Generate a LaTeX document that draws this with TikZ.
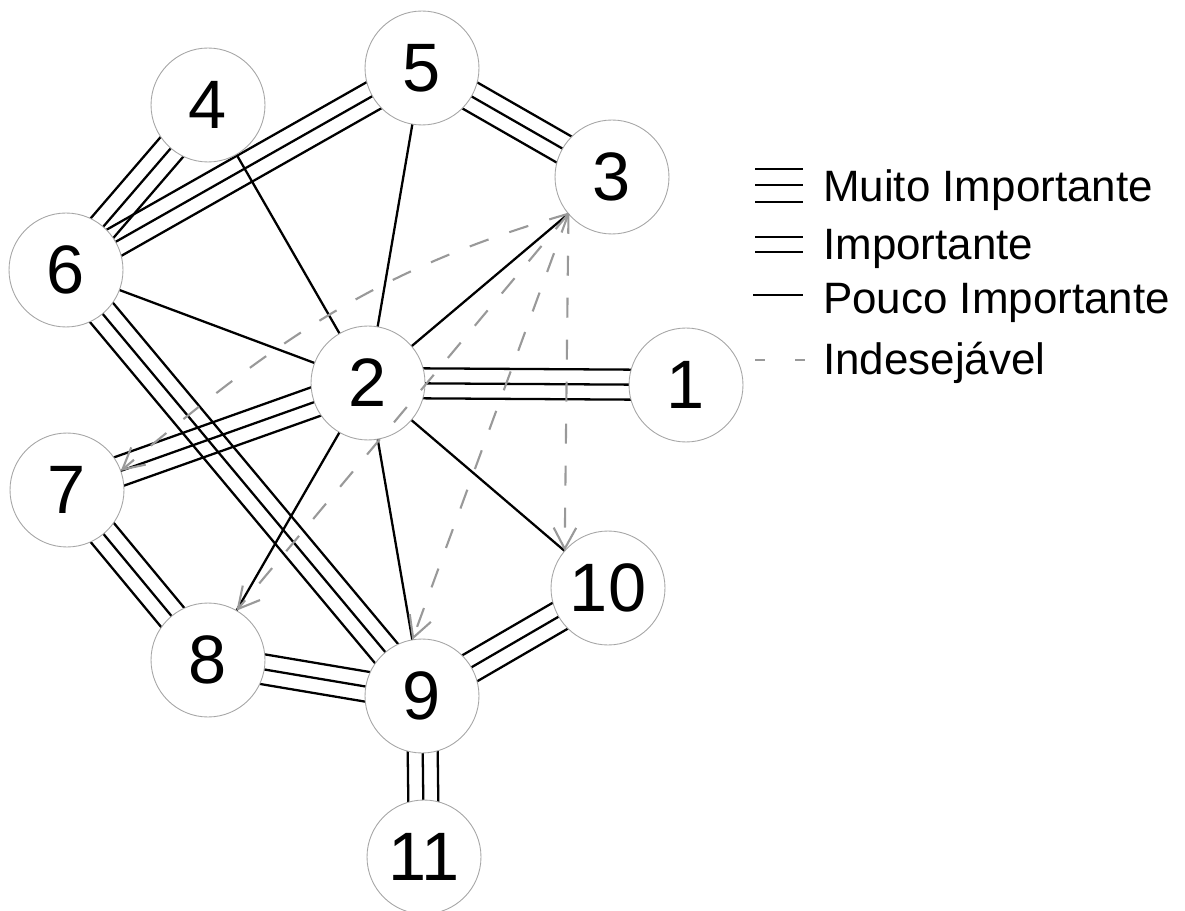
\documentclass[tikz,border=0pt]{standalone}
\usepackage{fontspec}
\setmainfont{Liberation Sans}
\usetikzlibrary{calc, arrows.meta, backgrounds}

\begin{document}
\begin{tikzpicture}[x=0.02cm, y=-0.02cm,
    setor/.style={circle, draw=gray!70, line width=0.5pt, fill=white, minimum size=2.28cm, inner sep=0pt, font=\fontsize{39}{39}\selectfont},
    rel/.style={line width=1.3pt},
    indes/.style={draw=gray!80, line width=1.2pt, dash pattern=on 0.4cm off 0.44cm},
    seta/.style={-{Straight Barb[length=0.42cm, width=0.45cm]}},
    legenda/.style={anchor=base west, font=\fontsize{25}{25}\selectfont}]
    \useasboundingbox (0,0) rectangle (1185,911);

    \node[setor] (1) at (686,385) {1};
    \node[setor] (2) at (368,383) {2};
    \node[setor] (3) at (612,177) {3};
    \node[setor] (4) at (208,105) {4};
    \node[setor] (5) at (422,68) {5};
    \node[setor] (6) at (66,270) {6};
    \node[setor] (7) at (67,490) {7};
    \node[setor] (8) at (208,660) {8};
    \node[setor] (9) at (422,696) {9};
    \node[setor] (10) at (608,588) {10};
    \node[setor] (11) at (424,857) {11};

    \begin{scope}[on background layer]
        \foreach \a/\b in {4/6,5/6,5/3,2/1,2/7,6/9,7/8,8/9,9/10,9/11}{
            \draw[rel] (\a.center) -- (\b.center);
            \draw[rel] ($(\a.center)!0.3cm!90:(\b.center)$) -- ($(\b.center)!0.3cm!-90:(\a.center)$);
            \draw[rel] ($(\a.center)!0.3cm!-90:(\b.center)$) -- ($(\b.center)!0.3cm!90:(\a.center)$);
        }
        \foreach \a in {3,4,5,6,8,9,10}
            \draw[rel] (\a.center) -- (2.center);
    \end{scope}

    \coordinate (p3) at ($(3.center)!1.14cm!(2.center)$);
    \draw[indes, seta] (p3) to[out=196, in=40] ($(7.center)!1.14cm!(2.center)$);
    \foreach \a in {8,9,10}
        \draw[indes, seta] (p3) -- ($(\a.center)!1.14cm!(2.center)$);

    \node[legenda] (l1) at (817,202) {Muito Importante};
    \node[legenda] (l2) at (817,260) {Importante};
    \node[legenda] (l3) at (817,314) {Pouco Importante};
    \node[legenda] (l4) at (817,375) {Indesejável};
    \draw[rel] (755,169) -- (803,169);
    \draw[rel] (755,185) -- (803,185);
    \draw[rel] (755,202) -- (803,202);
    \draw[rel] (755,237) -- (803,237);
    \draw[rel] (755,252) -- (803,252);
    \draw[rel] (753,295) -- (803,295);
    \draw[indes, dash pattern=on 0.2cm off 0.6cm] (755,360) -- (805,360);
\end{tikzpicture}
\end{document}
